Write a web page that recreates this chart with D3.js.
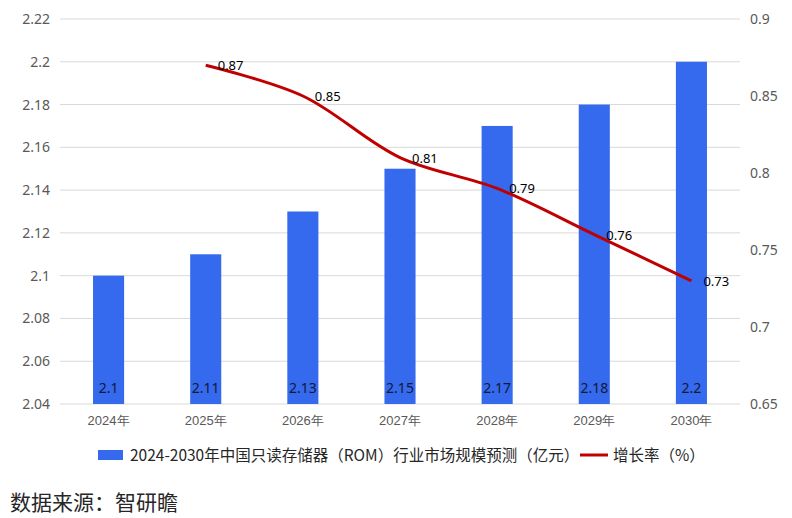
<!DOCTYPE html>
<html>
<head>
<meta charset="utf-8">
<script src="https://cdn.jsdelivr.net/npm/d3@7"></script>
<style>
  body { margin: 0; background: #fff; }
  svg { display: block; font-family: "Microsoft YaHei", "Noto Sans CJK SC", sans-serif; }
</style>
</head>
<body>
<div id="chart"></div>
<script>
var years = ['2024年', '2025年', '2026年', '2027年', '2028年', '2029年', '2030年'];
var marketSize = [2.1, 2.11, 2.13, 2.15, 2.17, 2.18, 2.2];
var growthYears = ['2025年', '2026年', '2027年', '2028年', '2029年', '2030年'];
var growthRate = [0.87, 0.85, 0.81, 0.79, 0.76, 0.73];
var leftTicks = [2.04, 2.06, 2.08, 2.1, 2.12, 2.14, 2.16, 2.18, 2.2, 2.22];
var rightTicks = [0.65, 0.7, 0.75, 0.8, 0.85, 0.9];

var barName = '2024-2030年中国只读存储器（ROM）行业市场规模预测（亿元）';
var lineName = '增长率（%）';

var width = 792, height = 518;
var plotLeft = 60, plotRight = 740, plotTop = 19, plotBottom = 404;
var numFont = '"Noto Sans", "Liberation Sans", sans-serif';

var svg = d3.select('#chart')
  .append('svg')
  .attr('width', width)
  .attr('height', height);

var x = d3.scaleBand().domain(years).range([plotLeft, plotRight]).paddingInner(0.68).paddingOuter(0.34);
var y = d3.scaleLinear().domain([2.04, 2.22]).range([plotBottom, plotTop]);
var y2 = d3.scaleLinear().domain([0.65, 0.9]).range([plotBottom, plotTop]);

// grid
svg.append('g')
  .selectAll('line')
  .data(leftTicks)
  .enter()
  .append('line')
  .attr('x1', plotLeft).attr('x2', plotRight)
  .attr('y1', function(d) { return y(d); })
  .attr('y2', function(d) { return y(d); })
  .attr('stroke', '#d9d9d9')
  .attr('stroke-width', 1);

// left axis
var yAxis = d3.axisLeft(y).tickValues(leftTicks).tickSize(0).tickPadding(10)
  .tickFormat(function(d) { return +d.toFixed(2); });
var gl = svg.append('g').attr('transform', 'translate(' + plotLeft + ',0)').call(yAxis);
gl.select('.domain').remove();
gl.selectAll('text').attr('fill', '#595959').style('font-size', '14px').style('font-family', numFont);

// right axis
var y2Axis = d3.axisRight(y2).tickValues(rightTicks).tickSize(0).tickPadding(10)
  .tickFormat(function(d) { return +d.toFixed(2); });
var gr = svg.append('g').attr('transform', 'translate(' + plotRight + ',0)').call(y2Axis);
gr.select('.domain').remove();
gr.selectAll('text').attr('fill', '#595959').style('font-size', '14px').style('font-family', numFont);

// x axis
var xAxis = d3.axisBottom(x).tickSize(0).tickPadding(12);
var gx = svg.append('g').attr('transform', 'translate(0,' + plotBottom + ')').call(xAxis);
gx.select('.domain').remove();
gx.selectAll('text').attr('fill', '#595959').style('font-size', '13px');

// bars
svg.append('g')
  .selectAll('rect')
  .data(marketSize)
  .enter()
  .append('rect')
  .attr('x', function(d, i) { return x(years[i]); })
  .attr('y', function(d) { return y(d); })
  .attr('width', x.bandwidth())
  .attr('height', function(d) { return plotBottom - y(d); })
  .attr('fill', '#3569ee');

svg.append('g')
  .selectAll('text')
  .data(marketSize)
  .enter()
  .append('text')
  .attr('x', function(d, i) { return x(years[i]) + x.bandwidth() / 2; })
  .attr('y', plotBottom - 11)
  .attr('text-anchor', 'middle')
  .attr('fill', '#111a33')
  .style('font-size', '14px')
  .style('font-family', numFont)
  .text(function(d) { return d; });

// line
var cx = function(i) { return x(growthYears[i]) + x.bandwidth() / 2; };
var line = d3.line()
  .x(function(d, i) { return cx(i); })
  .y(function(d) { return y2(d); })
  .curve(d3.curveCatmullRom.alpha(0.5));

svg.append('path')
  .datum(growthRate)
  .attr('d', line)
  .attr('fill', 'none')
  .attr('stroke', '#c00000')
  .attr('stroke-width', 3);

svg.append('g')
  .selectAll('text')
  .data(growthRate)
  .enter()
  .append('text')
  .attr('x', function(d, i) { return cx(i) + 12; })
  .attr('y', function(d) { return y2(d) + 5; })
  .attr('fill', '#000')
  .style('font-size', '13px')
  .style('font-family', numFont)
  .text(function(d) { return d; });

// legend
var lg = svg.append('g');
lg.append('rect').attr('x', 98).attr('y', 450).attr('width', 25).attr('height', 10).attr('fill', '#3569ee');
lg.append('text').attr('x', 130).attr('y', 461).attr('fill', '#262626')
  .style('font-size', '15.5px').text(barName);
lg.append('line').attr('x1', 580).attr('x2', 608).attr('y1', 455).attr('y2', 455)
  .attr('stroke', '#c00000').attr('stroke-width', 3);
lg.append('text').attr('x', 613).attr('y', 461).attr('fill', '#262626')
  .style('font-size', '15.5px').text(lineName);

// source
svg.append('text').attr('x', 10).attr('y', 510).attr('fill', '#262626')
  .style('font-size', '21px').text('数据来源：智研瞻');
</script>
</body>
</html>
